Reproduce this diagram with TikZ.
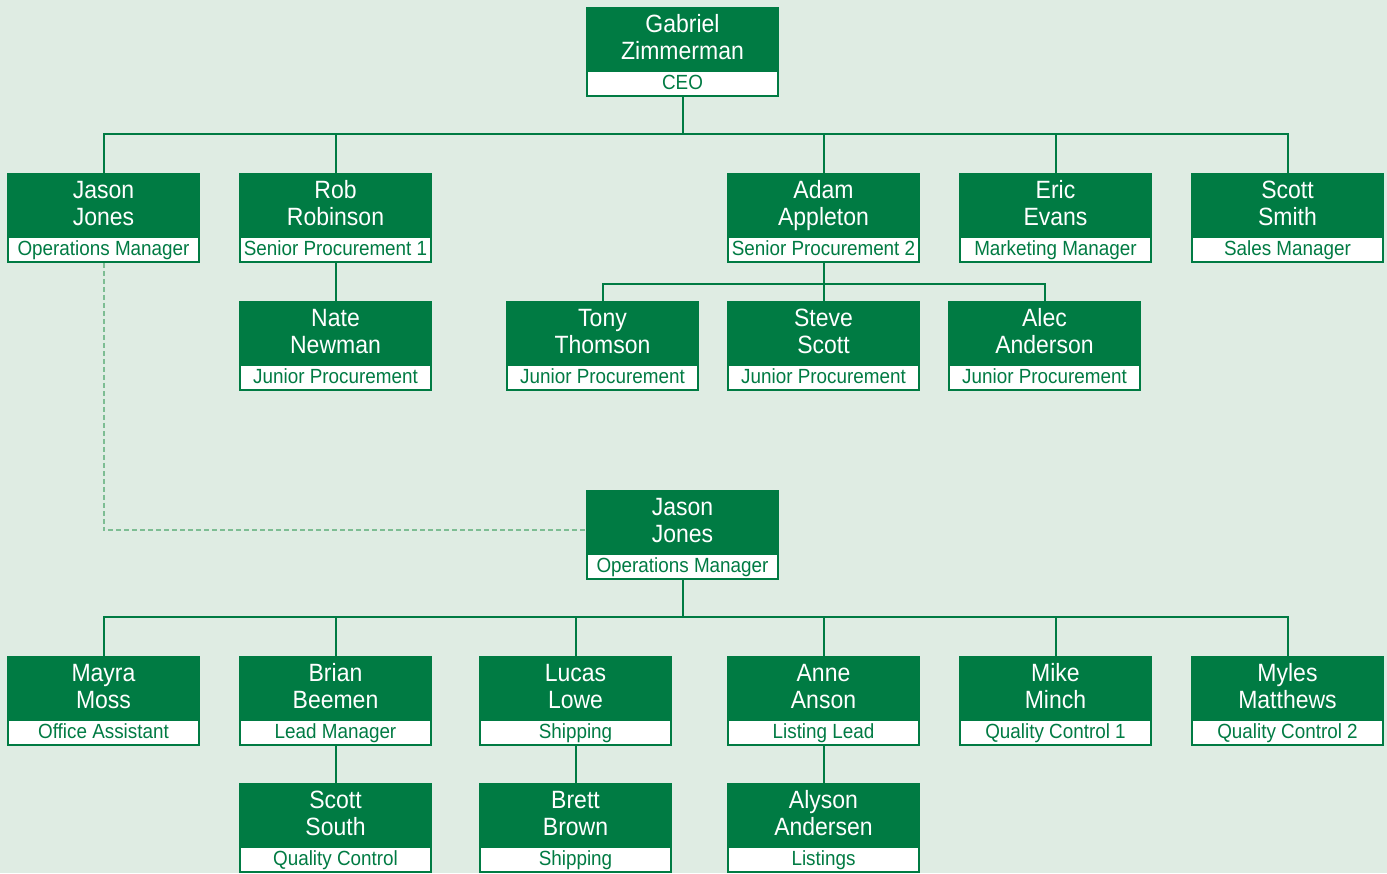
\documentclass[tikz,border=0pt]{standalone}
\usepackage{fontspec}
\setmainfont{Liberation Sans}[FakeStretch=0.92]
\definecolor{bg}{HTML}{DFECE3}
\definecolor{gr}{HTML}{007B43}
\definecolor{dashc}{HTML}{7DBD93}
\tikzset{
  gbox/.style={draw=gr, fill=gr, line width=1.5pt, minimum width=191pt, minimum height=63pt, inner sep=0pt},
  ntext/.style={text=white, inner sep=0pt, anchor=base, font=\fontsize{25}{27}\selectfont},
  tbox/.style={draw=gr, fill=white, line width=1.5pt, minimum width=191pt, minimum height=25pt, inner sep=0pt},
  ttext/.style={text=gr, inner sep=0pt, anchor=base, font=\fontsize{20.5}{22}\selectfont},
  conn/.style={draw=gr, line width=2pt},
  dashconn/.style={draw=dashc, line width=2pt, dash pattern=on 5pt off 3pt},
}
\newcommand\pbox[6]{%
  \node[gbox] (#1) at (#2+95.5,#3+31.5) {};
  \node[tbox] (#1t) at (#2+95.5,#3+75.5) {};
  \node[ntext] (#1a) at (#2+95.5,#3+24.5) {#4};
  \node[ntext] (#1b) at (#2+95.5,#3+51.5) {#5};
  \node[ttext] (#1c) at (#2+95.5,#3+81.5) {#6};}
\begin{document}
\begin{tikzpicture}[x=1pt,y=-1pt]
\fill[bg] (0,0) rectangle (1387,873);
\useasboundingbox (0,0) rectangle (1387,873);
% boxes
\pbox{ceo}{587}{8}{Gabriel}{Zimmerman}{CEO}
\pbox{jj}{8}{174}{Jason}{Jones}{Operations Manager}
\pbox{rr}{240}{174}{Rob}{Robinson}{Senior Procurement 1}
\pbox{aa}{728}{174}{Adam}{Appleton}{Senior Procurement 2}
\pbox{ee}{960}{174}{Eric}{Evans}{Marketing Manager}
\pbox{ss}{1192}{174}{Scott}{Smith}{Sales Manager}
\pbox{nn}{240}{302}{Nate}{Newman}{Junior Procurement}
\pbox{tt}{507}{302}{Tony}{Thomson}{Junior Procurement}
\pbox{st}{728}{302}{Steve}{Scott}{Junior Procurement}
\pbox{al}{949}{302}{Alec}{Anderson}{Junior Procurement}
\pbox{jm}{587}{491}{Jason}{Jones}{Operations Manager}
\pbox{mm}{8}{657}{Mayra}{Moss}{Office Assistant}
\pbox{bb}{240}{657}{Brian}{Beemen}{Lead Manager}
\pbox{ll}{480}{657}{Lucas}{Lowe}{Shipping}
\pbox{an}{728}{657}{Anne}{Anson}{Listing Lead}
\pbox{mi}{960}{657}{Mike}{Minch}{Quality Control 1}
\pbox{my}{1192}{657}{Myles}{Matthews}{Quality Control 2}
\pbox{sso}{240}{784}{Scott}{South}{Quality Control}
\pbox{br}{480}{784}{Brett}{Brown}{Shipping}
\pbox{als}{728}{784}{Alyson}{Andersen}{Listings}
% connectors
\foreach \c in {jj,rr,aa,ee,ss}{\draw[conn] (ceot.south) -- ++(0,37) -| (\c.north);}
\foreach \c in {tt,st,al}{\draw[conn] (aat.south) -- ++(0,21) -| (\c.north);}
\foreach \c in {mm,bb,ll,an,mi,my}{\draw[conn] (jmt.south) -- ++(0,37) -| (\c.north);}
\draw[conn] (rrt.south) -- (nn.north);
\draw[conn] (bbt.south) -- (sso.north);
\draw[conn] (llt.south) -- (br.north);
\draw[conn] (ant.south) -- (als.north);
\draw[dashconn] (jjt.south) |- ([yshift=-7.5pt]jm.west);
\end{tikzpicture}
\end{document}
